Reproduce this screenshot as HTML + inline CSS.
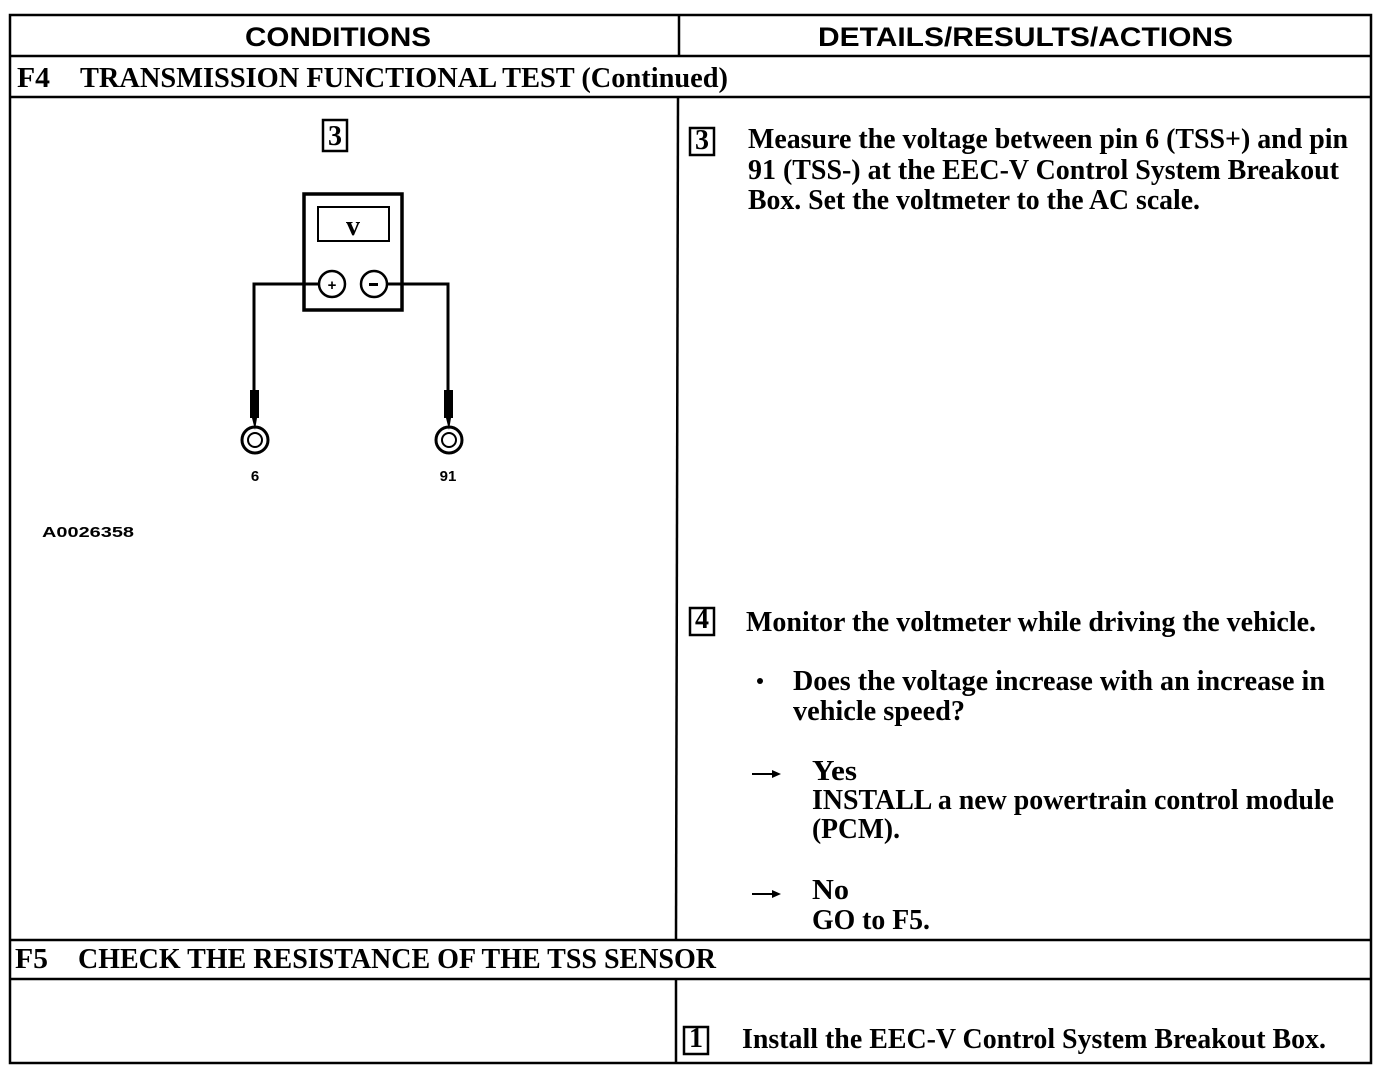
<!DOCTYPE html>
<html><head><meta charset="utf-8"><style>
html,body{margin:0;padding:0;background:#fff;}
svg{display:block;}
.s{font-family:"Liberation Serif",serif;font-weight:bold;font-size:28px;fill:#000;}
.h{font-family:"Liberation Sans",sans-serif;font-weight:bold;font-size:27px;fill:#000;}
.sm{font-family:"Liberation Sans",sans-serif;font-weight:bold;font-size:15px;fill:#000;}
</style></head><body>
<svg width="1392" height="1068" viewBox="0 0 1392 1068" xmlns="http://www.w3.org/2000/svg">
<g stroke="#000" stroke-width="2.5" fill="none">
<rect x="10" y="15" width="1361" height="1048"/>
<line x1="10" y1="56" x2="1371" y2="56"/>
<line x1="10" y1="97" x2="1371" y2="97"/>
<line x1="10" y1="940" x2="1371" y2="940"/>
<line x1="10" y1="979" x2="1371" y2="979"/>
<line x1="679" y1="15" x2="679" y2="56"/>
<line x1="678" y1="97" x2="676" y2="940"/>
<line x1="676" y1="979" x2="676" y2="1063"/>
</g>
<text class="h" x="245" y="46" textLength="186" lengthAdjust="spacingAndGlyphs">CONDITIONS</text>
<text class="h" x="818" y="46" textLength="415" lengthAdjust="spacingAndGlyphs">DETAILS/RESULTS/ACTIONS</text>
<text class="s" x="17" y="87" textLength="33" lengthAdjust="spacingAndGlyphs">F4</text>
<text class="s" x="80" y="87" textLength="648" lengthAdjust="spacingAndGlyphs">TRANSMISSION FUNCTIONAL TEST (Continued)</text>

<!-- diagram -->
<g stroke="#000" fill="none">
<rect x="323" y="120" width="24" height="31" stroke-width="2.5"/>
<rect x="304" y="194" width="98" height="116" stroke-width="3.5"/>
<rect x="318" y="207" width="71" height="34" stroke-width="2"/>
<circle cx="332" cy="284" r="13" stroke-width="2.5"/>
<circle cx="374" cy="284" r="13" stroke-width="2.5"/>
<path d="M319 284 H254 V392" stroke-width="3"/>
<path d="M387 284 H448 V392" stroke-width="3"/>
<circle cx="255" cy="440" r="13" stroke-width="3"/>
<circle cx="255" cy="440" r="7" stroke-width="2"/>
<circle cx="449" cy="440" r="13" stroke-width="3"/>
<circle cx="449" cy="440" r="7" stroke-width="2"/>
</g>
<rect x="250" y="390" width="9" height="28" fill="#000"/>
<rect x="444" y="390" width="9" height="28" fill="#000"/>
<path d="M252 418 L257 418 L255 430 Z" fill="#000"/>
<path d="M446 418 L451 418 L449 430 Z" fill="#000"/>
<text class="s" x="335" y="145" font-size="20" text-anchor="middle">3</text>
<text class="s" x="353" y="235" font-size="22" text-anchor="middle">v</text>
<text class="sm" x="332" y="290" font-size="18" text-anchor="middle">+</text>
<rect x="369" y="283" width="9" height="3" fill="#000"/>
<text class="sm" x="255" y="481" font-size="16" text-anchor="middle">6</text>
<text class="sm" x="448" y="481" font-size="16" text-anchor="middle">91</text>
<text class="sm" x="42" y="537" textLength="92" lengthAdjust="spacingAndGlyphs">A0026358</text>

<!-- right column -->
<rect x="690" y="128" width="24" height="27" stroke="#000" stroke-width="2.5" fill="none"/>
<text class="s" x="702" y="149" font-size="18" text-anchor="middle">3</text>
<text class="s" x="748" y="148" textLength="600" lengthAdjust="spacingAndGlyphs">Measure the voltage between pin 6 (TSS+) and pin</text>
<text class="s" x="748" y="179" textLength="591" lengthAdjust="spacingAndGlyphs">91 (TSS-) at the EEC-V Control System Breakout</text>
<text class="s" x="748" y="209" textLength="452" lengthAdjust="spacingAndGlyphs">Box. Set the voltmeter to the AC scale.</text>

<rect x="690" y="608" width="24" height="27" stroke="#000" stroke-width="2.5" fill="none"/>
<text class="s" x="702" y="628" font-size="16" text-anchor="middle">4</text>
<text class="s" x="746" y="631" textLength="570" lengthAdjust="spacingAndGlyphs">Monitor the voltmeter while driving the vehicle.</text>
<circle cx="760" cy="681" r="3" fill="#000"/>
<text class="s" x="793" y="690" textLength="532" lengthAdjust="spacingAndGlyphs">Does the voltage increase with an increase in</text>
<text class="s" x="793" y="720" textLength="172" lengthAdjust="spacingAndGlyphs">vehicle speed?</text>
<line x1="752" y1="774" x2="774" y2="774" stroke="#000" stroke-width="2"/>
<path d="M772 770 L781 774 L772 778 Z" fill="#000"/>
<text class="s" x="812" y="780" textLength="45" lengthAdjust="spacingAndGlyphs">Yes</text>
<text class="s" x="812" y="809" textLength="522" lengthAdjust="spacingAndGlyphs">INSTALL a new powertrain control module</text>
<text class="s" x="812" y="838" textLength="88" lengthAdjust="spacingAndGlyphs">(PCM).</text>
<line x1="752" y1="894" x2="774" y2="894" stroke="#000" stroke-width="2"/>
<path d="M772 890 L781 894 L772 898 Z" fill="#000"/>
<text class="s" x="812" y="899" textLength="37" lengthAdjust="spacingAndGlyphs">No</text>
<text class="s" x="812" y="929" textLength="118" lengthAdjust="spacingAndGlyphs">GO to F5.</text>

<text class="s" x="15" y="968" textLength="33" lengthAdjust="spacingAndGlyphs">F5</text>
<text class="s" x="78" y="968" textLength="638" lengthAdjust="spacingAndGlyphs">CHECK THE RESISTANCE OF THE TSS SENSOR</text>

<rect x="684" y="1027" width="24" height="27" stroke="#000" stroke-width="2.5" fill="none"/>
<text class="s" x="696" y="1047" font-size="16" text-anchor="middle">1</text>
<text class="s" x="742" y="1048" textLength="584" lengthAdjust="spacingAndGlyphs">Install the EEC-V Control System Breakout Box.</text>
</svg>
</body></html>
